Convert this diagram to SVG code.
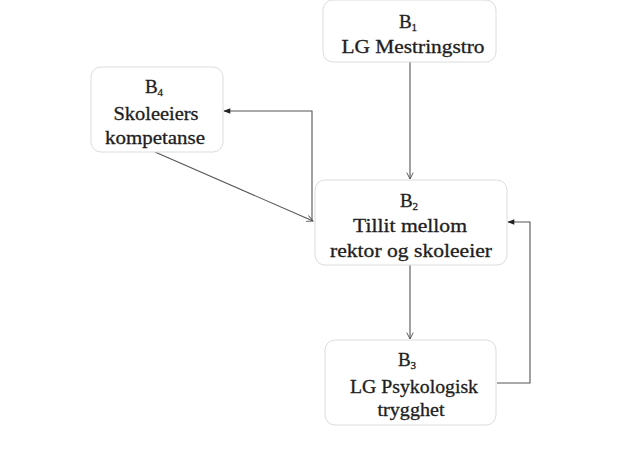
<svg xmlns="http://www.w3.org/2000/svg" width="631" height="459" viewBox="0 0 631 459">
  <style>
    .box { fill: #ffffff; stroke: #dcdcdc; stroke-width: 1; }
    .lbl { font-family: "Liberation Serif", "Times New Roman", serif; font-size: 18px; fill: #1e1e1e; stroke: #1e1e1e; stroke-width: 0.3; text-anchor: middle; }
    .hd { font-size: 19px; }
    .sub { font-size: 11px; }
    .wire { fill: none; stroke: #555555; stroke-width: 1.1; }
  </style>
  <defs>
    <marker id="open" viewBox="0 0 10 10" refX="9" refY="5" markerWidth="8" markerHeight="8" markerUnits="userSpaceOnUse" orient="auto">
      <path d="M1,1 L9,5 L1,9" fill="none" stroke="#555555" stroke-width="1.2"/>
    </marker>
    <marker id="solid" viewBox="0 0 10 10" refX="9" refY="5" markerWidth="8" markerHeight="7" markerUnits="userSpaceOnUse" orient="auto">
      <path d="M0,1 L10,5 L0,9 Z" fill="#222222"/>
    </marker>
  </defs>

  <rect width="631" height="459" fill="#ffffff"/>

  <!-- connectors -->
  <g id="connectors">
    <line class="wire" x1="410" y1="62" x2="410" y2="179" marker-end="url(#open)"/>
    <line class="wire" x1="410" y1="265" x2="410" y2="339" marker-end="url(#open)"/>
    <line class="wire" x1="155" y1="152" x2="313" y2="221" marker-end="url(#open)"/>
    <path class="wire" d="M497,383 H530 V222 H508" marker-end="url(#solid)"/>
    <path class="wire" d="M312,221 V111 H224" marker-end="url(#solid)"/>
  </g>

  <!-- B1 -->
  <g id="b1">
    <rect class="box" x="323" y="0" width="173" height="62" rx="10"/>
    <text class="lbl hd" x="408" y="28">B<tspan class="sub" dy="3">1</tspan></text>
    <text class="lbl" x="413" y="53" textLength="143" lengthAdjust="spacingAndGlyphs">LG Mestringstro</text>
  </g>

  <!-- B2 -->
  <g id="b2">
    <rect class="box" x="315" y="180" width="192" height="85" rx="10"/>
    <text class="lbl hd" x="409" y="207">B<tspan class="sub" dy="3">2</tspan></text>
    <text class="lbl" x="410" y="232" textLength="114" lengthAdjust="spacingAndGlyphs">Tillit mellom</text>
    <text class="lbl" x="411" y="257" textLength="162" lengthAdjust="spacingAndGlyphs">rektor og skoleeier</text>
  </g>

  <!-- B3 -->
  <g id="b3">
    <rect class="box" x="325" y="340" width="171" height="85" rx="10"/>
    <text class="lbl hd" x="407" y="366">B<tspan class="sub" dy="3">3</tspan></text>
    <text class="lbl" x="414" y="393" textLength="128" lengthAdjust="spacingAndGlyphs">LG Psykologisk</text>
    <text class="lbl" x="411" y="416" textLength="67" lengthAdjust="spacingAndGlyphs">trygghet</text>
  </g>

  <!-- B4 -->
  <g id="b4">
    <rect class="box" x="91" y="67" width="132" height="85" rx="10"/>
    <text class="lbl hd" x="154" y="93">B<tspan class="sub" dy="3">4</tspan></text>
    <text class="lbl" x="156" y="120" textLength="85" lengthAdjust="spacingAndGlyphs">Skoleeiers</text>
    <text class="lbl" x="155" y="144" textLength="100" lengthAdjust="spacingAndGlyphs">kompetanse</text>
  </g>
</svg>
